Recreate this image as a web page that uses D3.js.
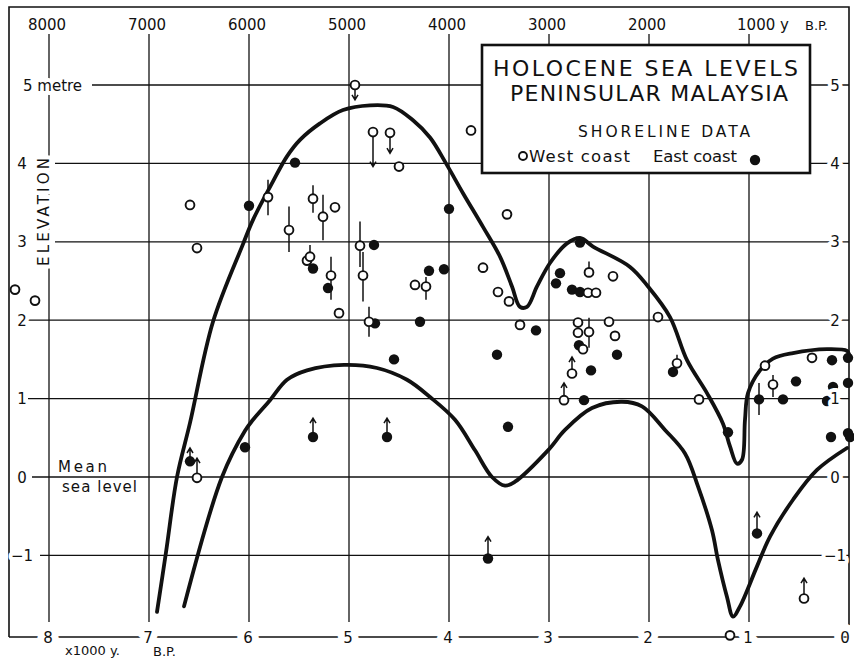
<!DOCTYPE html>
<html>
<head>
<meta charset="utf-8">
<script src="https://cdn.jsdelivr.net/npm/d3@7"></script>
<style>
  body { margin: 0; background: #fff; }
  svg { display: block; }
  text { font-family: "DejaVu Sans", "Liberation Sans", sans-serif; fill: #111; }
</style>
</head>
<body>
<svg id="chart" width="854" height="661"></svg>
<script>
// ---- axis ticks ----
const yearTicks = [8000, 7000, 6000, 5000, 4000, 3000, 2000, 1000];
const topYearLabels = ["8000", "7000", "6000", "5000", "4000", "3000", "2000", "1000 y"];
const bottomYears = [8000, 7000, 6000, 5000, 4000, 3000, 2000, 1000, 0];
const bottomYearLabels = ["8", "7", "6", "5", "4", "3", "2", "1", "0"];
const elevTicks = [5, 4, 3, 2, 1, 0, -1];
const leftElevLabels = ["5 metre", "4", "3", "2", "1", "0", "\u22121"];
const rightElevLabels = ["5", "4", "3", "2", "1", "0", "\u22121"];

// ---- shoreline data: [years B.P., elevation in m] ----
const westCoast = [
  [8340, 2.39], [8140, 2.25], [6590, 3.47], [6520, 2.92], [6520, -0.01],
  [5810, 3.57], [5600, 3.15], [5420, 2.76], [5390, 2.81], [5360, 3.55],
  [5260, 3.32], [5180, 2.57], [5140, 3.44], [5100, 2.09], [4940, 5.00],
  [4890, 2.95], [4860, 2.57], [4800, 1.98], [4760, 4.40], [4590, 4.39],
  [4500, 3.96], [4340, 2.45], [4230, 2.43], [3780, 4.42], [3660, 2.67],
  [3510, 2.36], [3420, 3.35], [3400, 2.24], [3290, 1.94], [2850, 0.98],
  [2770, 1.32], [2710, 1.97], [2710, 1.84], [2660, 1.63], [2610, 2.35],
  [2600, 2.61], [2600, 1.85], [2530, 2.35], [2400, 1.98], [2360, 2.56],
  [2340, 1.80], [1910, 2.04], [1720, 1.45], [1500, 0.99], [1190, -2.02],
  [840, 1.42], [760, 1.18], [450, -1.55], [370, 1.52]
];
const eastCoast = [
  [6590, 0.20], [6040, 0.38], [6000, 3.46], [5540, 4.01], [5360, 2.66],
  [5360, 0.51], [5210, 2.41], [4750, 2.96], [4740, 1.96], [4620, 0.51],
  [4550, 1.50], [4290, 1.98], [4200, 2.63], [4050, 2.65], [4000, 3.42],
  [3610, -1.04], [3520, 1.56], [3410, 0.64], [3130, 1.87], [2930, 2.47],
  [2890, 2.60], [2770, 2.39], [2700, 1.68], [2690, 2.36], [2690, 2.99],
  [2650, 0.98], [2580, 1.36], [2320, 1.56], [1760, 1.34], [1210, 0.57],
  [920, -0.72], [900, 0.99], [660, 0.99], [530, 1.22], [220, 0.97],
  [180, 0.51], [170, 1.49], [160, 1.15], [10, 1.52], [10, 1.20],
  [10, 0.56], [-10, 0.51]
];

// elevation uncertainty: [years B.P., low, high]
const errorRanges = [
  [5810, 3.34, 3.79], [5600, 2.87, 3.45], [5390, 2.81, 2.96], [5360, 3.37, 3.72],
  [5260, 3.02, 3.60], [5180, 2.26, 2.81], [4890, 2.68, 3.26], [4860, 2.24, 2.87],
  [4800, 1.79, 2.17], [4230, 2.26, 2.55], [2600, 2.61, 2.75], [2600, 1.65, 2.03],
  [1720, 1.45, 1.56], [760, 1.02, 1.30], [900, 0.79, 1.20]
];

// limiting dates: [years B.P., sample elevation, arrow tip elevation]
const limitArrows = [
  [4940, 5.00, 4.81], [4760, 4.40, 3.96], [4590, 4.39, 4.13],
  [6590, 0.20, 0.37], [6520, -0.01, 0.24], [5360, 0.51, 0.75],
  [4620, 0.51, 0.75], [3610, -1.04, -0.76], [2770, 1.32, 1.53],
  [2850, 0.98, 1.20], [920, -0.72, -0.45], [450, -1.55, -1.29]
];

// envelope of Holocene sea levels: [years B.P., elevation]
const upperEnvelope = [
  [6920, -1.72], [6830, -0.96], [6720, 0.00], [6590, 0.69], [6360, 1.98],
  [6060, 2.97], [5960, 3.28], [5760, 3.77], [5620, 4.09], [5490, 4.30],
  [5290, 4.51], [5060, 4.68], [4790, 4.74], [4560, 4.72], [4360, 4.55],
  [4190, 4.33], [4030, 4.00], [3860, 3.62], [3660, 3.19], [3490, 2.81],
  [3370, 2.43], [3290, 2.17], [3220, 2.17], [3120, 2.43], [2990, 2.73],
  [2820, 2.98], [2690, 3.05], [2560, 2.94], [2190, 2.68], [2010, 2.43],
  [1790, 2.04], [1620, 1.49], [1420, 1.07], [1260, 0.68], [1190, 0.39],
  [1120, 0.17], [1070, 0.22], [1040, 0.73], [1010, 1.07], [890, 1.36],
  [760, 1.51], [560, 1.58], [220, 1.63], [20, 1.61], [0, 1.57]
];
const lowerEnvelope = [
  [6650, -1.65], [6270, 0.00], [6040, 0.59], [5960, 0.73],
  [5790, 0.98], [5620, 1.24], [5420, 1.36], [5050, 1.43], [4720, 1.39],
  [4420, 1.24], [4190, 1.02], [3940, 0.73], [3740, 0.34], [3570, 0.00],
  [3440, -0.11], [3340, -0.06], [3010, 0.34], [2840, 0.60], [2570, 0.88],
  [2270, 0.96], [2070, 0.90], [1840, 0.60], [1640, 0.30], [1510, -0.12],
  [1370, -0.68], [1310, -1.06], [1220, -1.53], [1160, -1.78], [1090, -1.65],
  [920, -1.14], [790, -0.76], [560, -0.29], [320, 0.09], [20, 0.37]
];

// ---- layout ----
const svg = d3.select("#chart");
const ink = "#111";
const x = d3.scaleLinear().domain([8000, 0]).range([49, 849]);
const y = d3.scaleLinear().domain([0, 5]).range([477, 85]);

const frame = { left: 9, top: 7, right: 849, bottom: 637 };
const halo = sel => sel.style("paint-order", "stroke").attr("stroke", "#fff")
  .attr("stroke-linejoin", "round");

// grid
const grid = svg.append("g").attr("stroke", ink).attr("stroke-width", 1.3);
grid.selectAll("line.v").data(yearTicks).join("line")
  .attr("x1", d => x(d)).attr("x2", d => x(d))
  .attr("y1", 34).attr("y2", 622);
const lineStart = { 5: 92, 4: 55, 3: 55, 2: 28, 1: 28, 0: 32, "-1": 40 };
grid.selectAll("line.h").data(elevTicks).join("line")
  .attr("x1", d => lineStart[d]).attr("x2", frame.right)
  .attr("y1", d => y(d)).attr("y2", d => y(d));

// frame
svg.append("path")
  .attr("d", `M${frame.left},${frame.bottom}V${frame.top}H${frame.right}V${frame.bottom}H${frame.left}`)
  .attr("fill", "none").attr("stroke", ink).attr("stroke-width", 1.6);

// envelopes
const env = d3.line().x(d => x(d[0])).y(d => y(d[1])).curve(d3.curveCatmullRom.alpha(0.5));
svg.append("g").selectAll("path").data([upperEnvelope, lowerEnvelope]).join("path")
  .attr("d", env).attr("fill", "none").attr("stroke", ink)
  .attr("stroke-width", 3.8).attr("stroke-linecap", "round");

// error bars
svg.append("g").attr("stroke", ink).attr("stroke-width", 1.5)
  .selectAll("line").data(errorRanges).join("line")
  .attr("x1", d => x(d[0])).attr("x2", d => x(d[0]))
  .attr("y1", d => y(d[1])).attr("y2", d => y(d[2]));

// limiting arrows
const arrows = svg.append("g").attr("stroke", ink).attr("stroke-width", 1.5).attr("fill", "none");
arrows.selectAll("path").data(limitArrows).join("path")
  .attr("d", d => {
    const cx = x(d[0]), y0 = y(d[1]), y1 = y(d[2]);
    const dir = y1 < y0 ? -1 : 1;
    const start = y0 + dir * 4;
    return `M${cx},${start}V${y1}M${cx - 3},${y1 - dir * 5}L${cx},${y1}L${cx + 3},${y1 - dir * 5}`;
  });

// points
svg.append("g").selectAll("circle").data(eastCoast).join("circle")
  .attr("cx", d => x(d[0])).attr("cy", d => y(d[1])).attr("r", 5.2).attr("fill", ink);
svg.append("g").selectAll("circle").data(westCoast).join("circle")
  .attr("cx", d => x(d[0])).attr("cy", d => y(d[1])).attr("r", 4.4)
  .attr("fill", "#fff").attr("stroke", ink).attr("stroke-width", 1.9);

// top year labels
svg.append("g").selectAll("text").data(yearTicks).join("text")
  .attr("x", (d, i) => x(d) + (i === yearTicks.length - 1 ? 14 : -2)).attr("y", 30)
  .attr("text-anchor", "middle").attr("font-size", 15)
  .text((d, i) => topYearLabels[i]);
svg.append("text").attr("x", 805).attr("y", 30).attr("font-size", 13).text("B.P.");

// bottom labels
svg.append("g").selectAll("text").data(bottomYears).join("text")
  .attr("x", (d, i) => x(d) + (d === 0 ? -4 : -1)).attr("y", 643)
  .attr("text-anchor", "middle").attr("font-size", 15)
  .call(halo).attr("stroke-width", 14)
  .text((d, i) => bottomYearLabels[i]);
svg.append("text").attr("x", 65).attr("y", 655).attr("font-size", 13).text("x1000 y.");
svg.append("text").attr("x", 153).attr("y", 656).attr("font-size", 13).text("B.P.");

// left elevation labels
svg.append("g").selectAll("text").data(elevTicks).join("text")
  .attr("x", d => d === 5 ? 23 : 22).attr("y", d => y(d) + 5.5)
  .attr("text-anchor", d => d === 5 ? "start" : "middle").attr("font-size", 15)
  .call(halo).attr("stroke-width", 8)
  .text((d, i) => leftElevLabels[i]);

// right elevation labels
svg.append("g").selectAll("text").data(elevTicks).join("text")
  .attr("x", 835).attr("y", d => y(d) + 5.5)
  .attr("text-anchor", "middle").attr("font-size", 15)
  .call(halo).attr("stroke-width", 8)
  .text((d, i) => rightElevLabels[i]);

// axis title
svg.append("text")
  .attr("transform", `translate(44,212) rotate(-90)`)
  .attr("text-anchor", "middle").attr("dy", "0.36em").attr("font-size", 15)
  .attr("textLength", 108).attr("lengthAdjust", "spacing")
  .call(halo).attr("stroke-width", 8)
  .text("ELEVATION");

// mean sea level note
svg.append("text").attr("x", 58).attr("y", 472).attr("font-size", 15)
  .attr("textLength", 49).attr("lengthAdjust", "spacing").text("Mean");
svg.append("text").attr("x", 62).attr("y", 492).attr("font-size", 15)
  .attr("textLength", 75).attr("lengthAdjust", "spacing").text("sea level");

// title / legend box
const box = svg.append("g");
box.append("rect").attr("x", 482).attr("y", 45).attr("width", 328).attr("height", 128)
  .attr("fill", "#fff").attr("stroke", ink).attr("stroke-width", 2.6);
box.append("text").attr("x", 493).attr("y", 76).attr("font-size", 22)
  .attr("textLength", 305).attr("lengthAdjust", "spacing").text("HOLOCENE SEA LEVELS");
box.append("text").attr("x", 510).attr("y", 101).attr("font-size", 22)
  .attr("textLength", 278).attr("lengthAdjust", "spacing").text("PENINSULAR MALAYSIA");
box.append("text").attr("x", 578).attr("y", 137).attr("font-size", 15.5)
  .attr("textLength", 172).attr("lengthAdjust", "spacing").text("SHORELINE   DATA");
box.append("circle").attr("cx", 523).attr("cy", 156).attr("r", 4)
  .attr("fill", "#fff").attr("stroke", ink).attr("stroke-width", 1.9);
box.append("text").attr("x", 529).attr("y", 162).attr("font-size", 16.5)
  .attr("textLength", 101).attr("lengthAdjust", "spacing").text("West coast");
box.append("text").attr("x", 653).attr("y", 162).attr("font-size", 16.5)
  .attr("textLength", 84).attr("lengthAdjust", "spacing").text("East coast");
box.append("circle").attr("cx", 755).attr("cy", 160).attr("r", 5.2).attr("fill", ink);
</script>
</body>
</html>
